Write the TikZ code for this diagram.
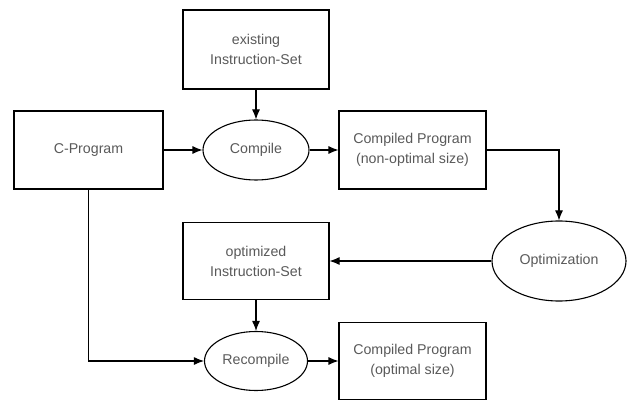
\documentclass[tikz,border=0pt]{standalone}
\usepackage{fontspec}
\setmainfont{Liberation Sans}
\usetikzlibrary{positioning, shapes.geometric, arrows.meta}

\tikzset{
  box/.style={draw, line width=1.1pt, rectangle, inner sep=0pt, align=center,
    text=black!65, font=\fontsize{14.2}{20}\selectfont},
  oval/.style={draw, line width=1.1pt, ellipse, inner sep=0pt, align=center,
    text=black!65, font=\fontsize{14.2}{20}\selectfont},
  flow/.style={line width=1.1pt, -{Latex[length=10pt,width=8pt]}}
}

\begin{document}
\begin{tikzpicture}[x=1pt, y=-1pt]
    \useasboundingbox (0,0) rectangle (628,403);

    % Boxes
    \node[box, minimum width=146pt, minimum height=79pt] (exist) at (256,49.5) {existing\\Instruction-Set};
    \node[box, minimum width=149pt, minimum height=78pt] (cprog) at (88.5,150) {C-Program};
    \node[box, minimum width=147pt, minimum height=78pt] (nonopt) at (412.5,150) {Compiled Program\\(non-optimal size)};
    \node[box, minimum width=146pt, minimum height=77pt] (optset) at (256,261) {optimized\\Instruction-Set};
    \node[box, minimum width=147pt, minimum height=77pt] (optprog) at (412.5,361) {Compiled Program\\(optimal size)};

    % Ellipses
    \node[oval, minimum width=106pt, minimum height=60pt] (compile) at (256,150) {Compile};
    \node[oval, minimum width=134pt, minimum height=80pt] (optim) at (559,261) {Optimization};
    \node[oval, minimum width=103pt, minimum height=59pt] (recompile) at (256,361) {Recompile};

    % Connectors
    \draw[flow] (exist.south) -- (compile.north);
    \draw[flow] (cprog.east) -- (compile.west);
    \draw[flow] (compile.east) -- (nonopt.west);
    \draw[flow] (nonopt.east) -| (optim.north);
    \draw[flow] (optim.west) -- (optset.east);
    \draw[flow] (optset.south) -- (recompile.north);
    \draw[flow] (cprog.south) |- (recompile.west);
    \draw[flow] (recompile.east) -- (optprog.west);
\end{tikzpicture}
\end{document}
